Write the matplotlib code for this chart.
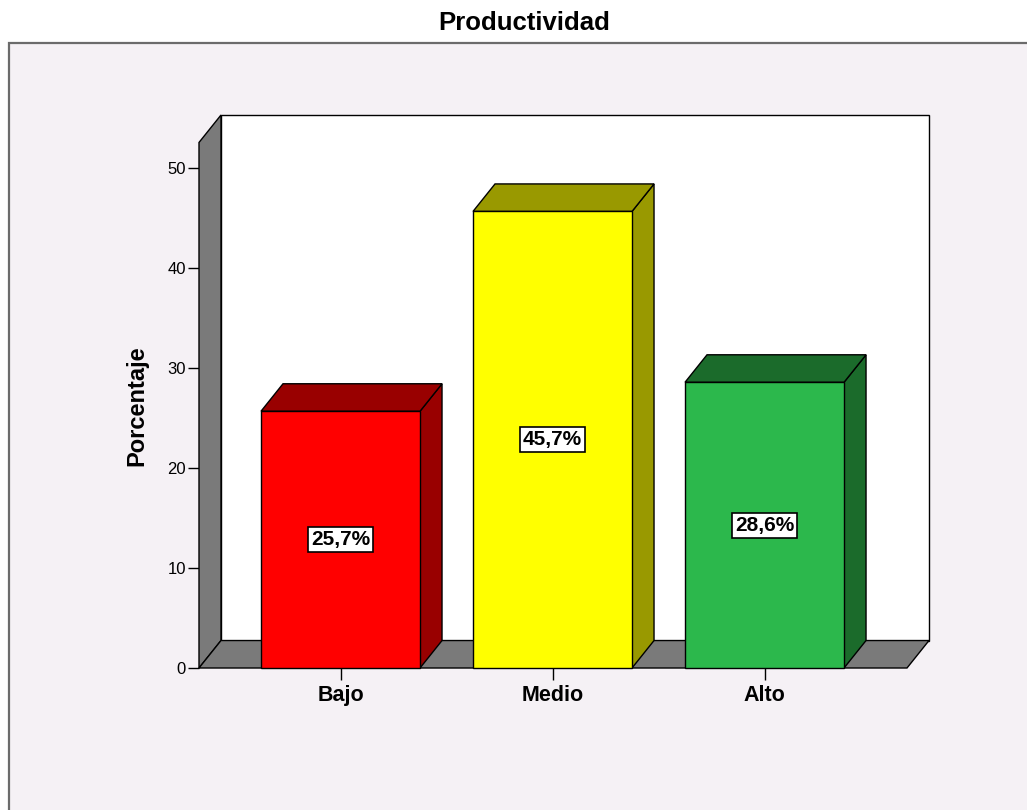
import matplotlib
matplotlib.use("Agg")
import matplotlib.pyplot as plt
from matplotlib.patches import Polygon, Rectangle

plt.rcParams['font.family'] = ['Liberation Sans', 'DejaVu Sans']

# datos
categorias = ['Bajo', 'Medio', 'Alto']
porcentajes = [25.7, 45.7, 28.6]
color_frente = ['#ff0000', '#ffff00', '#2cb84c']
color_lado = ['#990000', '#999900', '#1b6b2b']
ticks_y = [0, 10, 20, 30, 40, 50]

W, H = 1027, 810
fig = plt.figure(figsize=(W / 100, H / 100), dpi=100)
fig.patch.set_facecolor('white')

# marco del grafico (detras de los ejes)
marco = Rectangle((9 / W, -0.01), 1.0, (H - 43) / H + 0.01, transform=fig.transFigure,
                  facecolor='#f5f1f5', edgecolor='#6b6b6b', lw=1.6, zorder=-5)
fig.patches.append(marco)

# ejes en pixeles: frente de 199 a 907, fondo hasta 929; y 0 en 668, tope 115
ax = fig.add_axes([199 / W, (H - 668) / H, (929 - 199) / W, (668 - 115) / H])
ax.set_zorder(1)
ax.patch.set_visible(False)
for s in ax.spines.values():
    s.set_visible(False)

x0 = -0.6675
x1 = 2.672
dx = 22 / 212      # profundidad en unidades x
dy = 2.75          # profundidad en unidades y
ytop = 52.6
ax.set_xlim(x0, x1 + dx)
ax.set_ylim(0, ytop + dy)

gris = '#7a7a7a'
lw = 1.0
# pared del fondo, pared izquierda y piso
ax.add_patch(Rectangle((x0 + dx, dy), x1 - x0, ytop, facecolor='white',
                       edgecolor='black', lw=lw, zorder=1, clip_on=False))
ax.add_patch(Polygon([(x0, 0), (x0 + dx, dy), (x0 + dx, ytop + dy), (x0, ytop)],
                     closed=True, facecolor=gris, edgecolor='black', lw=lw, zorder=2,
                     clip_on=False))
ax.add_patch(Polygon([(x0, 0), (x1, 0), (x1 + dx, dy), (x0 + dx, dy)],
                     closed=True, facecolor=gris, edgecolor='black', lw=lw, zorder=2,
                     clip_on=False))

ancho = 0.75
xs = list(range(len(categorias)))
ax.bar(xs, porcentajes, width=ancho, color=color_frente, edgecolor='black',
       linewidth=lw, zorder=4, clip_on=False)
for x, v, cl in zip(xs, porcentajes, color_lado):
    izq, der = x - ancho / 2, x + ancho / 2
    ax.add_patch(Polygon([(der, 0), (der + dx, dy), (der + dx, v + dy), (der, v)],
                         closed=True, facecolor=cl, edgecolor='black', lw=lw, zorder=3,
                         clip_on=False))
    ax.add_patch(Polygon([(izq, v), (der, v), (der + dx, v + dy), (izq + dx, v + dy)],
                         closed=True, facecolor=cl, edgecolor='black', lw=lw, zorder=3,
                         clip_on=False))
    etiqueta = f"{v:.1f}%".replace('.', ',')
    ax.text(x, v / 2, etiqueta, ha='center', va='center', fontsize=15,
            fontweight='bold', zorder=6,
            bbox=dict(boxstyle='square,pad=0.15', facecolor='white',
                      edgecolor='black', lw=1.2))

ax.set_yticks(ticks_y)
ax.set_yticklabels([str(t) for t in ticks_y], fontsize=12)
ax.tick_params(axis='y', length=8, width=1, pad=1.5, colors='black')
ax.set_xticks(xs)
ax.set_xticklabels(categorias, fontsize=15.5, fontweight='bold')
ax.tick_params(axis='x', length=8.5, width=1, pad=3.5)

fig.text(137 / W, (H - 406) / H, 'Porcentaje', rotation=90, ha='center',
         va='center', fontsize=17, fontweight='bold')
fig.text(524 / W, (H - 23) / H, 'Productividad', ha='center', va='center',
         fontsize=18.5, fontweight='bold')

fig.savefig('out.png', dpi=100)
